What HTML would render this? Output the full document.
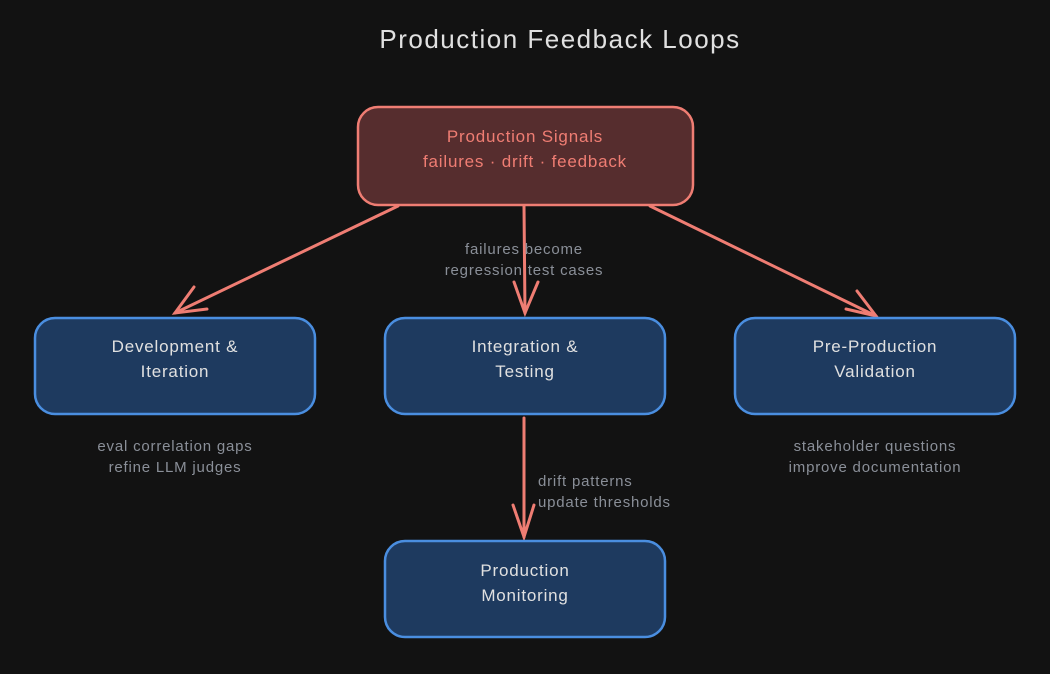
<!DOCTYPE html>
<html><head><meta charset="utf-8"><style>
html,body{margin:0;padding:0;background:#121212;width:1050px;height:674px;overflow:hidden}
svg{display:block}
text{font-family:"Comic Sans MS","Liberation Sans",sans-serif}
</style></head><body>
<svg width="1050" height="674" viewBox="0 0 1050 674">
<rect width="1050" height="674" fill="#121212"/>
<text x="560" y="48" text-anchor="middle" font-size="26" letter-spacing="1.5" fill="#e0e0e0">Production Feedback Loops</text>

<rect x="358" y="107" width="335" height="98" rx="20" fill="#562d2e" stroke="#ef7d73" stroke-width="2.5"/>
<text x="525" y="142" text-anchor="middle" font-size="17" letter-spacing="0.8" fill="#ef7d73">Production Signals</text>
<text x="525" y="167" text-anchor="middle" font-size="17" letter-spacing="0.8" fill="#ef7d73">failures · drift · feedback</text>

<g stroke="#ef7d73" stroke-width="3" fill="none" stroke-linecap="round">
<line x1="398" y1="206" x2="175" y2="313"/>
<polyline points="194,287 175,313 207,309"/>
<line x1="524" y1="206" x2="525" y2="313"/>
<polyline points="514,282 525,313 538,282"/>
<line x1="650" y1="206" x2="876" y2="316"/>
<polyline points="846,309 876,316 857,291"/>
<line x1="524" y1="418" x2="524" y2="537"/>
<polyline points="513,505 524,537 534,505"/>
</g>

<g fill="#1e3a5f" stroke="#4a8ee0" stroke-width="2.5">
<rect x="35" y="318" width="280" height="96" rx="20"/>
<rect x="385" y="318" width="280" height="96" rx="20"/>
<rect x="735" y="318" width="280" height="96" rx="20"/>
<rect x="385" y="541" width="280" height="96" rx="20"/>
</g>
<g font-size="17" fill="#e0e0e0" text-anchor="middle" letter-spacing="0.8">
<text x="175" y="352">Development &amp;</text><text x="175" y="377">Iteration</text>
<text x="525" y="352">Integration &amp;</text><text x="525" y="377">Testing</text>
<text x="875" y="352">Pre-Production</text><text x="875" y="377">Validation</text>
<text x="525" y="576">Production</text><text x="525" y="601">Monitoring</text>
</g>
<g font-size="15" fill="#8a8f98" text-anchor="middle" letter-spacing="0.8">
<text x="524" y="254">failures become</text><text x="524" y="275">regression test cases</text>
<text x="175" y="451">eval correlation gaps</text><text x="175" y="472">refine LLM judges</text>
<text x="875" y="451">stakeholder questions</text><text x="875" y="472">improve documentation</text>
</g>
<g font-size="15" fill="#8a8f98" letter-spacing="0.8">
<text x="538" y="486">drift patterns</text><text x="538" y="507">update thresholds</text>
</g>
</svg>
</body></html>
